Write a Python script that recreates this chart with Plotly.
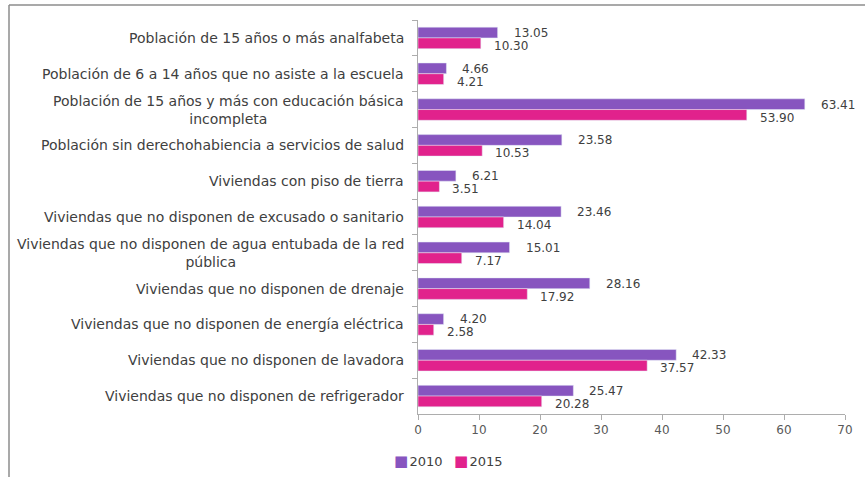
import plotly.graph_objects as go

categories = [
    "Población de 15 años o más analfabeta",
    "Población de 6 a 14 años que no asiste a la escuela",
    "Población de 15 años y más con educación básica<br>incompleta",
    "Población sin derechohabiencia a servicios de salud",
    "Viviendas con piso de tierra",
    "Viviendas que no disponen de excusado o sanitario",
    "Viviendas que no disponen de agua entubada de la red<br>pública",
    "Viviendas que no disponen de drenaje",
    "Viviendas que no disponen de energía eléctrica",
    "Viviendas que no disponen de lavadora",
    "Viviendas que no disponen de refrigerador",
]
values_2010 = [13.05, 4.66, 63.41, 23.58, 6.21, 23.46, 15.01, 28.16, 4.20, 42.33, 25.47]
values_2015 = [10.30, 4.21, 53.90, 10.53, 3.51, 14.04, 7.17, 17.92, 2.58, 37.57, 20.28]
x_ticks = [0, 10, 20, 30, 40, 50, 60, 70]

W, H = 865, 478
L, R, T, B = 418, 20, 20, 64
plot_w = W - L - R
plot_h = H - T - B

COLOR_2010 = "#8755BF"
COLOR_2015 = "#E1228C"
TEXT = "#404040"

series = [
    ("2010", values_2010, COLOR_2010, 5, 14),   # name, values, colour, label yshift, label xshift
    ("2015", values_2015, COLOR_2015, -8, 11),
]

fig = go.Figure()
annotations = []
for name, vals, color, ysh, xsh in series:
    fig.add_trace(go.Bar(
        y=categories, x=vals, orientation="h", name=name,
        marker=dict(color=color), showlegend=False,
    ))
    # value labels just past the end of each bar
    for c, v in zip(categories, vals):
        annotations.append(dict(
            xref="x", yref="y", x=v, y=c, xanchor="left", yanchor="middle",
            xshift=xsh, yshift=ysh, text=f"{v:.2f}", showarrow=False,
            font=dict(family="DejaVu Sans", size=12, color=TEXT),
        ))

# Category labels as centred multi-line annotations to the left of the axis
for c in categories:
    annotations.append(dict(
        xref="paper", yref="y", x=0, y=c, xanchor="right", yanchor="middle",
        xshift=-12, text=c, showarrow=False, align="center",
        font=dict(family="DejaVu Sans", size=14, color=TEXT),
    ))

px_x = lambda p: (p - L) / plot_w
px_y = lambda p: 1 - (p - T) / plot_h

# Legend row below the axis
legend_x = [392, 452]
for (name, vals, color, ysh, xsh), lx in zip(series, legend_x):
    annotations.append(dict(
        xref="paper", yref="paper", x=px_x(lx), y=px_y(461),
        xanchor="left", yanchor="middle", showarrow=False,
        text=f"<span style='color:{color};font-size:15px'>■</span>"
             f"<span style='font-size:4px'> </span>{name}",
        font=dict(family="DejaVu Sans", size=13, color=TEXT),
    ))

# Frame lines around the chart area
shapes = [
    dict(type="line", xref="paper", yref="paper", x0=px_x(9), x1=px_x(870),
         y0=px_y(5), y1=px_y(5), line=dict(color="#8C8C8C", width=1.5)),
    dict(type="line", xref="paper", yref="paper", x0=px_x(9), x1=px_x(9),
         y0=px_y(5), y1=px_y(477), line=dict(color="#8C8C8C", width=1.5)),
]

fig.update_layout(
    width=W, height=H,
    margin=dict(l=L, r=R, t=T, b=B),
    paper_bgcolor="white", plot_bgcolor="white",
    barmode="group", bargap=0.4, bargroupgap=0.0,
    showlegend=False,
    annotations=annotations,
    shapes=shapes,
    xaxis=dict(
        range=[0, 70], tickvals=x_ticks, showgrid=False, zeroline=False,
        showline=True, linecolor="#ADADAD", linewidth=1,
        ticks="outside", ticklen=5, tickcolor="#ADADAD",
        tickfont=dict(family="DejaVu Sans", size=12, color="#595959"),
    ),
    yaxis=dict(
        autorange="reversed", showticklabels=False, showgrid=False,
        showline=True, linecolor="#ADADAD", linewidth=1,
        ticks="outside", ticklen=5, tickcolor="#ADADAD",
        tickson="boundaries",
    ),
)

fig.write_html("out.html")
